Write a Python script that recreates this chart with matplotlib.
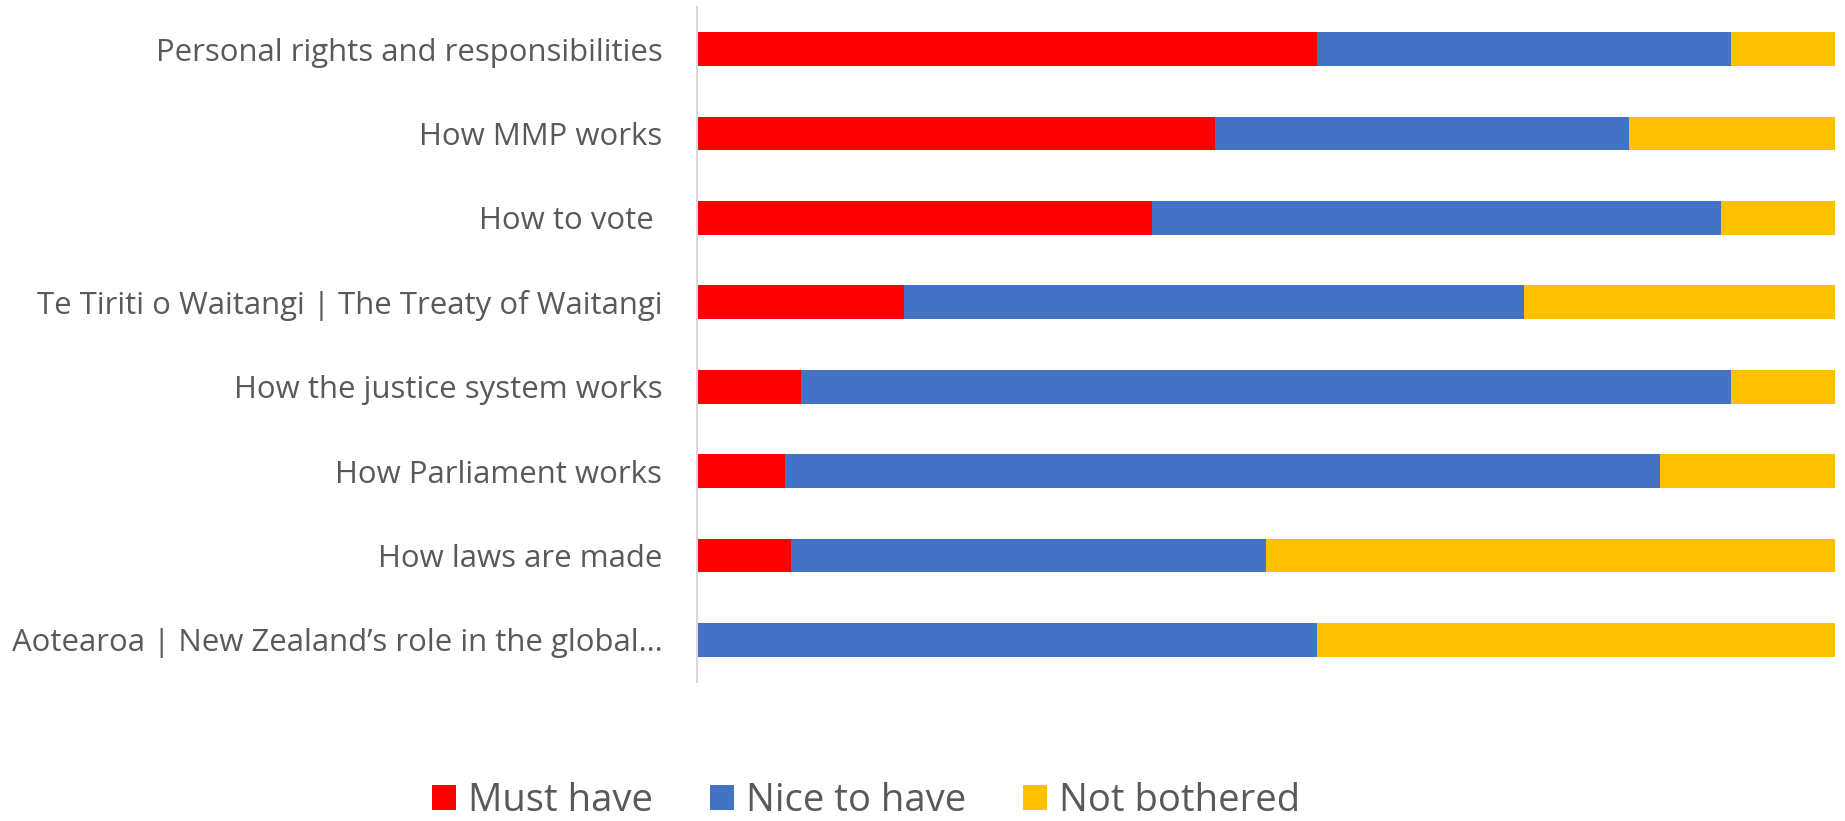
import matplotlib
matplotlib.use("Agg")
import matplotlib.pyplot as plt
from matplotlib.patches import Patch

categories = [
    "Personal rights and responsibilities",
    "How MMP works",
    "How to vote ",
    "Te Tiriti o Waitangi | The Treaty of Waitangi",
    "How the justice system works",
    "How Parliament works",
    "How laws are made",
    "Aotearoa | New Zealand\u2019s role in the global\u2026",
]
must_have = [54.5, 45.5, 40.0, 18.2, 9.1, 7.7, 8.3, 0.0]
nice_to_have = [36.4, 36.4, 50.0, 54.5, 81.8, 76.9, 41.7, 54.5]
not_bothered = [9.1, 18.2, 10.0, 27.3, 9.1, 15.4, 50.0, 45.5]
series_names = ["Must have", "Nice to have", "Not bothered"]
colors = ["#FF0000", "#4472C4", "#FFC000"]

plt.rcParams['font.family'] = ['Open Sans', 'DejaVu Sans']
text_color = "#595959"

fig = plt.figure(figsize=(18.45, 8.21), dpi=100)
ax = fig.add_axes([697/1845, 1-682/821, (1835-697)/1845, (682-7)/821])

y = list(range(len(categories)))
left = [0.0]*len(categories)
for vals, c, name in zip([must_have, nice_to_have, not_bothered], colors, series_names):
    ax.barh(y, vals, left=left, height=0.40, color=c, label=name, linewidth=0)
    left = [l + v for l, v in zip(left, vals)]

ax.set_xlim(0, 100)
ax.set_ylim(len(categories) - 0.5, -0.5)
ax.set_yticks(y)
ax.set_yticklabels(categories, fontsize=22.4, color=text_color)
ax.tick_params(axis='y', length=0, pad=25)
ax.set_xticks([])
for s in ["top", "right", "bottom"]:
    ax.spines[s].set_visible(False)
ax.spines["left"].set_color("#D9D9D9")
ax.spines["left"].set_linewidth(1.5)

handles = [Patch(facecolor=c, label=n) for c, n in zip(colors, series_names)]
fig.legend(handles=handles, loc="center", bbox_to_anchor=(866/1845, 1-801/821),
           ncol=3, frameon=False, fontsize=27.5, labelcolor=text_color,
           handlelength=0.62, handleheight=0.62, handletextpad=0.31, columnspacing=1.5,
           borderpad=0, borderaxespad=0)

fig.savefig("out.png", dpi=100)
